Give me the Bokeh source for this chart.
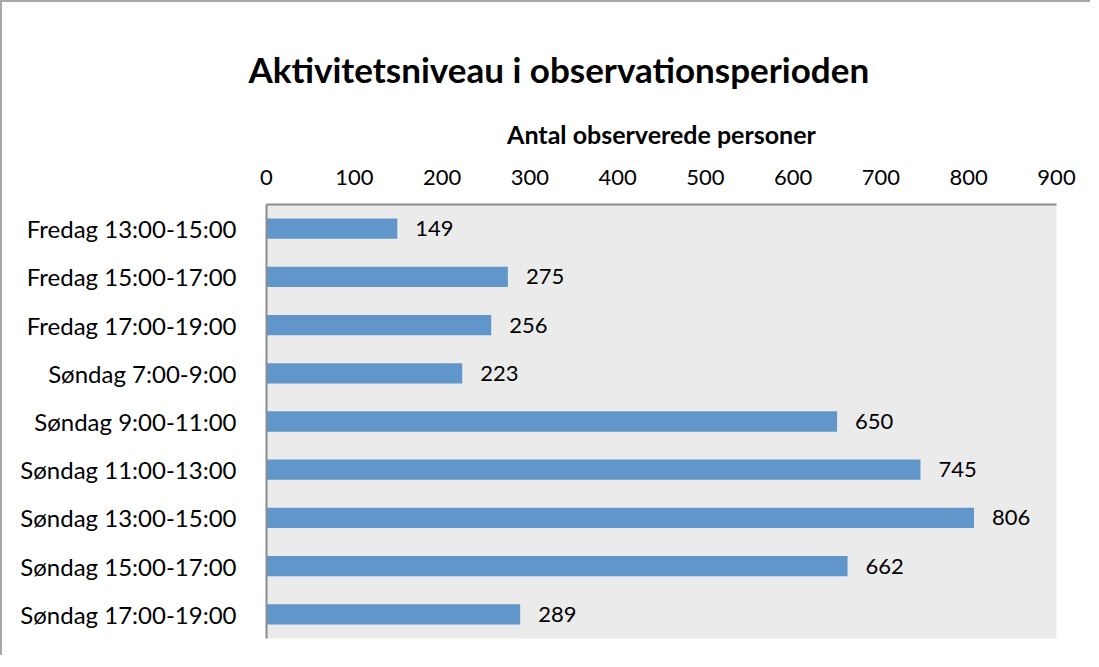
from bokeh.plotting import figure
from bokeh.models import FactorRange, Range1d, ColumnDataSource, FixedTicker
from bokeh.core.properties import value
from bokeh.embed import file_html
from bokeh.resources import INLINE

categories = ["Fredag 13:00-15:00", "Fredag 15:00-17:00", "Fredag 17:00-19:00",
              "Søndag 7:00-9:00", "Søndag 9:00-11:00", "Søndag 11:00-13:00",
              "Søndag 13:00-15:00", "Søndag 15:00-17:00", "Søndag 17:00-19:00"]
counts = [149, 275, 256, 223, 650, 745, 806, 662, 289]
ticks = [0, 100, 200, 300, 400, 500, 600, 700, 800, 900]

FONT = "Lato"
src = ColumnDataSource(dict(cat=categories, val=counts, lbl=[str(v) for v in counts]))

p = figure(width=1090, height=655, output_backend="svg", toolbar_location=None,
           y_range=FactorRange(*reversed(categories)), x_range=Range1d(0, 900),
           x_axis_location="above",
           title="Aktivitetsniveau i observationsperioden")
p.styles = {"border-left": "2px solid #a8a8a8", "border-top": "2px solid #a8a8a8"}
p.min_border_left = 264
p.min_border_right = 36
p.min_border_top = 202
p.min_border_bottom = 19

p.title.text_font = FONT
p.title.text_font_size = "35px"
p.title.text_font_style = "bold"
p.title.text_color = "black"
p.title.align = "left"
p.title.vertical_align = "top"
p.title.offset = -18
p.title.standoff = 47

p.background_fill_color = "#ebebeb"
p.border_fill_color = "white"
p.outline_line_color = None
p.grid.visible = False

p.hbar(y="cat", right="val", left=0, height=0.42, source=src,
       fill_color="#6096c9", line_color=None)
p.text(x="val", y="cat", text="lbl", source=src, x_offset=18,
       text_align="left", text_baseline="middle",
       text_font=value(FONT), text_font_size="22px", text_color="black")

xa = p.xaxis[0]
xa.ticker = FixedTicker(ticks=ticks)
xa.axis_label = "Antal observerede personer"
xa.axis_label_text_font = FONT
xa.axis_label_text_font_style = "bold"
xa.axis_label_text_font_size = "25px"
xa.axis_label_text_color = "black"
xa.axis_label_standoff = 18
xa.major_label_text_font = FONT
xa.major_label_text_font_size = "22px"
xa.major_label_text_color = "black"
xa.major_label_standoff = 14
xa.major_tick_line_color = None
xa.minor_tick_line_color = None
xa.axis_line_color = "#8c8c8c"
xa.axis_line_width = 2

ya = p.yaxis[0]
ya.major_label_text_font = FONT
ya.major_label_text_font_size = "24px"
ya.major_label_text_color = "black"
ya.major_label_standoff = 24
ya.major_tick_line_color = None
ya.minor_tick_line_color = None
ya.axis_line_color = "#8c8c8c"
ya.axis_line_width = 2

open("out.html", "w").write(file_html(p, INLINE))
